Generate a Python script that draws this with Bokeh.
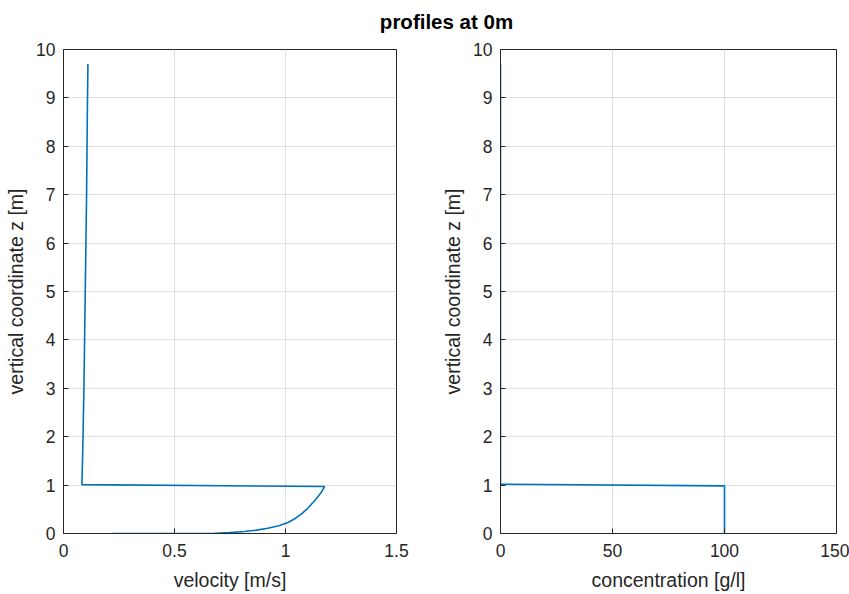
from bokeh.plotting import figure
from bokeh.layouts import column, row
from bokeh.models import FixedTicker, Range1d, Label
from bokeh.embed import file_html
from bokeh.resources import INLINE

# ---- data ----
title_text = "profiles at 0m"

vel_u = [0.110, 0.107, 0.104, 0.101, 0.098, 0.095, 0.092, 0.088, 0.083,
         1.176, 1.160, 1.131, 1.100, 1.071, 1.040, 1.011, 0.970, 0.920,
         0.870, 0.815, 0.750, 0.680, 0.220]
vel_z = [9.70, 8.50, 7.00, 6.00, 5.00, 4.00, 3.00, 2.00, 1.01,
         0.97, 0.84, 0.675, 0.52, 0.40, 0.30, 0.227, 0.16, 0.11,
         0.07, 0.04, 0.018, 0.005, 0.0]

conc_c = [0, 0, 100, 100]
conc_z = [9.70, 1.02, 0.985, 0.0]

vel_ticks = [0, 0.5, 1, 1.5]
vel_tick_labels = ["0", "0.5", "1", "1.5"]
conc_ticks = [0, 50, 100, 150]
z_ticks = list(range(0, 11))

xlabel_left = "velocity [m/s]"
xlabel_right = "concentration [g/l]"
ylabel = "vertical coordinate z [m]"

FONT = "Liberation Sans"
AX = "#262626"
LINE = "#0072BD"
GRID = "#dfdfdf"


def style(p, xticks, xlabel, overrides=None):
    p.xaxis.ticker = FixedTicker(ticks=xticks)
    p.yaxis.ticker = FixedTicker(ticks=z_ticks)
    if overrides:
        p.xaxis.major_label_overrides = overrides
    for ax in (p.xaxis[0], p.yaxis[0]):
        ax.axis_line_color = AX
        ax.major_tick_line_color = AX
        ax.major_tick_in = 5
        ax.major_tick_out = 0
        ax.minor_tick_line_color = None
        ax.major_label_text_font = FONT
        ax.major_label_text_font_size = "17.5px"
        ax.major_label_text_color = AX
        ax.axis_label_text_font = FONT
        ax.axis_label_text_font_size = "19.5px"
        ax.axis_label_text_font_style = "normal"
        ax.axis_label_text_color = AX
    p.xaxis.axis_label = xlabel
    p.yaxis.axis_label = ylabel
    p.xaxis.major_label_standoff = 10
    p.yaxis.major_label_standoff = 8
    p.xaxis.axis_label_standoff = 9
    p.yaxis.axis_label_standoff = 6
    p.xgrid.grid_line_color = GRID
    p.ygrid.grid_line_color = GRID
    p.outline_line_color = AX
    p.outline_line_alpha = 1.0
    p.background_fill_color = "white"
    p.border_fill_color = "white"


# title strip
p0 = figure(width=849, height=38, toolbar_location=None, output_backend="svg",
            min_border=0, x_range=Range1d(0, 1), y_range=Range1d(0, 1))
p0.axis.visible = False
p0.grid.visible = False
p0.outline_line_color = None
p0.add_layout(Label(x=446, y=17, x_units="screen", y_units="screen",
                    text=title_text, text_align="center", text_baseline="middle",
                    text_font=FONT, text_font_size="20.5px", text_font_style="bold",
                    text_color="black"))

# left: velocity
p1 = figure(width=438, height=556, toolbar_location=None, output_backend="svg",
            x_range=Range1d(0, 1.5), y_range=Range1d(0, 10),
            min_border_left=63, min_border_right=42, min_border_top=11, min_border_bottom=61)
p1.line(vel_u, vel_z, line_color=LINE, line_width=1.6)
style(p1, vel_ticks, xlabel_left,
      overrides={t: l for t, l in zip(vel_ticks, vel_tick_labels)})

# right: concentration
p2 = figure(width=411, height=556, toolbar_location=None, output_backend="svg",
            x_range=Range1d(0, 150), y_range=Range1d(0, 10),
            min_border_left=62, min_border_right=13, min_border_top=11, min_border_bottom=61)
p2.line(conc_c, conc_z, line_color=LINE, line_width=1.6)
style(p2, conc_ticks, xlabel_right)

layout = column(p0, row(p1, p2, spacing=0), spacing=0)

open("out.html", "w").write(file_html(layout, INLINE))
